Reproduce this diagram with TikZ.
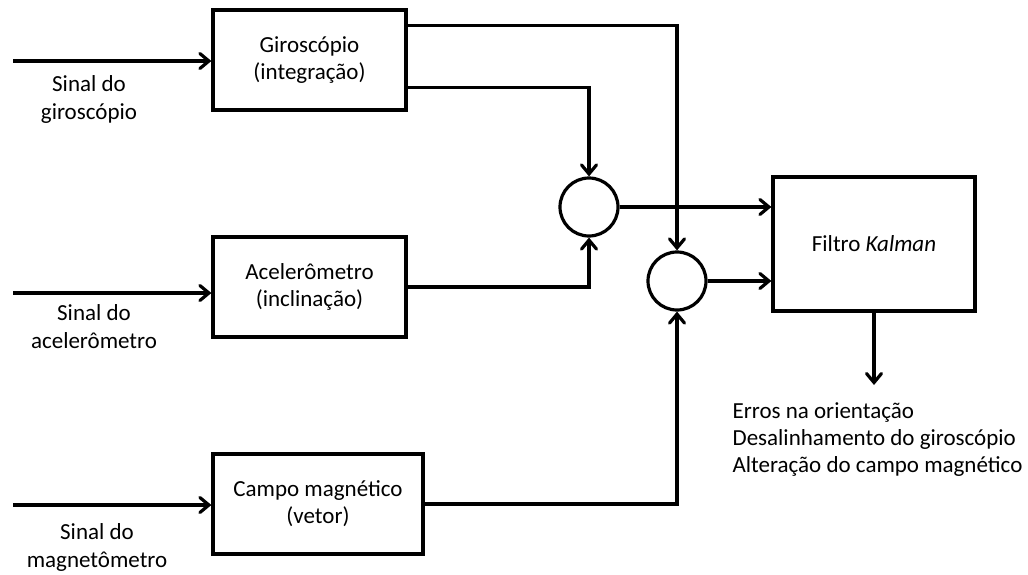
\documentclass[tikz,border=0pt]{standalone}
\usepackage{fontspec}
\setmainfont{Carlito}
\usetikzlibrary{arrows.meta}
\begin{document}
\begin{tikzpicture}[x=1pt,y=-1pt,
  line width=3.2pt,
  tip/.style={-{Straight Barb[length=9pt,width=15pt,line cap=round]}},
  block/.style={draw,rectangle,align=center,inner sep=0pt,font=\fontsize{23}{27}\selectfont},
  sumnode/.style={draw,circle,minimum size=58pt,inner sep=0pt},
  lbl/.style={align=center,inner sep=0pt,font=\fontsize{23}{28}\selectfont},
  outlbl/.style={align=left,anchor=west,inner sep=0pt,font=\fontsize{23}{27}\selectfont}]
\useasboundingbox (0,0) rectangle (1028,574);

% processing blocks
\node[block,minimum width=193pt,minimum height=100pt] (g) at (309.5,60) {Giroscópio\\(integração)};
\node[block,minimum width=193pt,minimum height=100pt] (a) at (309.5,287) {Acelerômetro\\(inclinação)};
\node[block,minimum width=210pt,minimum height=100pt] (m) at (318,504) {Campo magnético\\(vetor)};
\node[block,minimum width=202pt,minimum height=134pt] (k) at (874,244) {Filtro \textit{Kalman}};

% summing junctions
\node[sumnode] (c1) at (589,207) {};
\node[sumnode] (c2) at (677,281) {};

% signal labels
\node[lbl] (l1) at (89,99) {Sinal do\\giroscópio};
\node[lbl] (l2) at (94,327) {Sinal do\\acelerômetro};
\node[lbl] (l3) at (97,547) {Sinal do\\magnetômetro};
\node[outlbl] (o) at (731,440) {Erros na orientação\\Desalinhamento do giroscópio\\Alteração do campo magnético};

% input ends
\coordinate (in1) at (13,61);
\coordinate (in2) at (13,293);
\coordinate (in3) at (13,505);
\coordinate (out) at (874,385);

% inputs
\draw[tip] (in1) -- (in1 -| g.west);
\draw[tip] (in2) -- (in2 -| a.west);
\draw[tip] (in3) -- (in3 -| m.west);

% block outputs to junctions
\draw[tip] ([yshift=-17pt]g.north east) -| (c2.north);
\draw[tip] ([yshift=24pt]g.south east) -| (c1.north);
\draw[tip] (a.east) -| (c1.south);
\draw[tip] (m.east) -| (c2.south);

% junctions to filter
\draw[tip] (c1.east) -- (c1.east -| k.west);
\draw[tip] (c2.east) -- (c2.east -| k.west);

% filter output
\draw[tip] (k.south) -- (out);
\end{tikzpicture}
\end{document}
